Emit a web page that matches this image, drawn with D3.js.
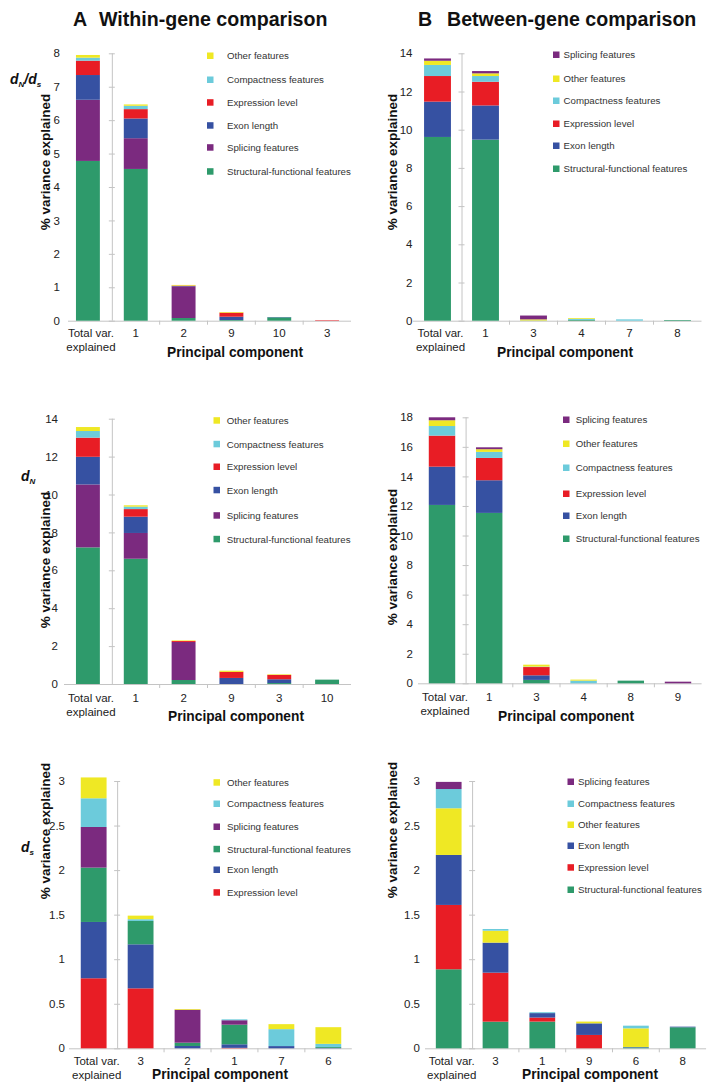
<!DOCTYPE html>
<html><head><meta charset="utf-8">
<script src="https://cdn.jsdelivr.net/npm/d3@7"></script>
<style>
html,body{margin:0;padding:0;background:#fff;}
svg{display:block;font-family:"Liberation Sans",Arial,Helvetica,sans-serif;}
</style></head><body>
<svg id="chart" width="719" height="1092"></svg>
<script>
// ---------- series names ----------
const STRUCT = "Structural-functional features";
const SPLICE = "Splicing features";
const EXON = "Exon length";
const EXPR = "Expression level";
const COMPACT = "Compactness features";
const OTHER = "Other features";

// ---------- A: Within-gene, dN/dS ----------
const a1Categories = ["Total var. explained", "1", "2", "9", "10", "3"];
const a1Order = [STRUCT, SPLICE, EXON, EXPR, COMPACT, OTHER];
const a1Structural = [4.78, 4.54, 0.08, 0.02, 0.10, 0];
const a1Splicing   = [1.83, 0.92, 0.95, 0, 0, 0];
const a1Exon       = [0.74, 0.59, 0.01, 0.10, 0.01, 0];
const a1Expression = [0.43, 0.28, 0.01, 0.12, 0, 0.015];
const a1Compact    = [0.09, 0.10, 0, 0, 0, 0];
const a1Other      = [0.08, 0.04, 0.02, 0.02, 0, 0];
const a1Ticks = [0, 1, 2, 3, 4, 5, 6, 7, 8];

// ---------- B: Between-gene, dN/dS ----------
const b1Categories = ["Total var. explained", "1", "3", "4", "7", "8"];
const b1Order = [STRUCT, EXON, EXPR, COMPACT, OTHER, SPLICE];
const b1Structural = [9.62, 9.48, 0.01, 0.04, 0, 0.035];
const b1Exon       = [1.85, 1.79, 0, 0, 0, 0];
const b1Expression = [1.34, 1.24, 0, 0, 0, 0];
const b1Compact    = [0.58, 0.30, 0, 0.06, 0.07, 0];
const b1Other      = [0.22, 0.14, 0.06, 0.04, 0, 0];
const b1Splicing   = [0.12, 0.12, 0.20, 0, 0, 0];
const b1Ticks = [0, 2, 4, 6, 8, 10, 12, 14];

// ---------- A: Within-gene, dN ----------
const a2Categories = ["Total var. explained", "1", "2", "9", "3", "10"];
const a2Order = [STRUCT, SPLICE, EXON, EXPR, COMPACT, OTHER];
const a2Structural = [7.21, 6.61, 0.21, 0, 0.05, 0.23];
const a2Splicing   = [3.32, 1.36, 2.01, 0, 0, 0];
const a2Exon       = [1.46, 0.86, 0, 0.32, 0.20, 0];
const a2Expression = [1.01, 0.40, 0.05, 0.32, 0.23, 0];
const a2Compact    = [0.35, 0.13, 0, 0, 0, 0];
const a2Other      = [0.21, 0.07, 0.03, 0.06, 0.03, 0];
const a2Ticks = [0, 2, 4, 6, 8, 10, 12, 14];

// ---------- B: Between-gene, dN ----------
const b2Categories = ["Total var. explained", "1", "3", "4", "8", "9"];
const b2Order = [STRUCT, EXON, EXPR, COMPACT, OTHER, SPLICE];
const b2Structural = [12.07, 11.53, 0.23, 0, 0.18, 0];
const b2Exon       = [2.59, 2.21, 0.31, 0, 0, 0];
const b2Expression = [2.10, 1.51, 0.56, 0, 0, 0];
const b2Compact    = [0.65, 0.41, 0.03, 0.18, 0, 0];
const b2Other      = [0.39, 0.18, 0.13, 0.07, 0, 0];
const b2Splicing   = [0.20, 0.13, 0, 0, 0, 0.11];
const b2Ticks = [0, 2, 4, 6, 8, 10, 12, 14, 16, 18];

// ---------- A: Within-gene, dS ----------
const a3Categories = ["Total var. explained", "3", "2", "1", "7", "6"];
const a3Order = [EXPR, EXON, STRUCT, SPLICE, COMPACT, OTHER];
const a3Expression = [0.786, 0.673, 0, 0.005, 0, 0];
const a3Exon       = [0.632, 0.494, 0.026, 0.04, 0.025, 0.005];
const a3Structural = [0.610, 0.262, 0.037, 0.22, 0, 0.01];
const a3Splicing   = [0.456, 0, 0.37, 0.05, 0, 0];
const a3Compact    = [0.322, 0.02, 0, 0.01, 0.19, 0.035];
const a3Other      = [0.234, 0.04, 0.008, 0, 0.056, 0.187];
const a3Ticks = [0, 0.5, 1, 1.5, 2, 2.5, 3];

// ---------- B: Between-gene, dS ----------
const b3Categories = ["Total var. explained", "3", "1", "9", "6", "8"];
const b3Order = [STRUCT, EXPR, EXON, OTHER, COMPACT, SPLICE];
const b3Structural = [0.887, 0.299, 0.30, 0, 0.01, 0.236];
const b3Expression = [0.722, 0.55, 0.045, 0.15, 0, 0];
const b3Exon       = [0.561, 0.337, 0.05, 0.13, 0.005, 0.007];
const b3Other      = [0.524, 0.134, 0, 0.02, 0.209, 0];
const b3Compact    = [0.216, 0.019, 0.01, 0, 0.03, 0];
const b3Splicing   = [0.08, 0, 0, 0, 0, 0];
const b3Ticks = [0, 0.5, 1, 1.5, 2, 2.5, 3];

const colors = {};
colors[STRUCT] = "#2e9a6b";
colors[SPLICE] = "#7b2a7f";
colors[EXON] = "#3651a2";
colors[EXPR] = "#e81d25";
colors[COMPACT] = "#6ccbdb";
colors[OTHER] = "#efe824";

const svg = d3.select("#chart");
const FONT = '"Liberation Sans", Arial, Helvetica, sans-serif';

// ---------- panel layout ----------
const panels = [
  { cats: a1Categories, order: a1Order, ticks: a1Ticks,
    values: {[STRUCT]: a1Structural, [SPLICE]: a1Splicing, [EXON]: a1Exon, [EXPR]: a1Expression, [COMPACT]: a1Compact, [OTHER]: a1Other},
    x0: 64, x1: 351, base: 320.7, top: 53.3, pad: 0.5, labelX: 60, baseStart: 68,
    legSq: 207, legTx: 227, legY: [56, 80, 102.7, 125.7, 147.7, 171.7],
    yTitle: [50, 162], xTitle: [235, 357], catDy: 16.5 },
  { cats: b1Categories, order: b1Order, ticks: b1Ticks,
    values: {[STRUCT]: b1Structural, [SPLICE]: b1Splicing, [EXON]: b1Exon, [EXPR]: b1Expression, [COMPACT]: b1Compact, [OTHER]: b1Other},
    x0: 413.5, x1: 701.5, base: 320.7, top: 53.3, pad: 0.44, labelX: 412.5, baseStart: 413,
    legSq: 553, legTx: 563.5, legY: [55, 79, 101, 124, 146, 169],
    yTitle: [397, 162], xTitle: [565, 357], catDy: 16.5 },
  { cats: a2Categories, order: a2Order, ticks: a2Ticks,
    values: {[STRUCT]: a2Structural, [SPLICE]: a2Splicing, [EXON]: a2Exon, [EXPR]: a2Expression, [COMPACT]: a2Compact, [OTHER]: a2Other},
    x0: 64, x1: 351, base: 684, top: 418.7, pad: 0.5, labelX: 58, baseStart: 64,
    legSq: 213.5, legTx: 226.7, legY: [420.7, 444.3, 467, 490.3, 515.7, 539.3],
    yTitle: [50, 560], xTitle: [236, 721], catDy: 17.5 },
  { cats: b2Categories, order: b2Order, ticks: b2Ticks,
    values: {[STRUCT]: b2Structural, [SPLICE]: b2Splicing, [EXON]: b2Exon, [EXPR]: b2Expression, [COMPACT]: b2Compact, [OTHER]: b2Other},
    x0: 418.4, x1: 701.6, base: 683.3, top: 417.3, pad: 0.44, labelX: 413, baseStart: 418,
    legSq: 563, legTx: 575.7, legY: [420, 444, 468, 494, 516, 539],
    yTitle: [397, 557], xTitle: [566, 721], catDy: 17.5 },
  { cats: a3Categories, order: a3Order, ticks: a3Ticks,
    values: {[STRUCT]: a3Structural, [SPLICE]: a3Splicing, [EXON]: a3Exon, [EXPR]: a3Expression, [COMPACT]: a3Compact, [OTHER]: a3Other},
    x0: 70.2, x1: 351.8, base: 1048.3, top: 781, pad: 0.45, labelX: 65, baseStart: 69,
    legSq: 213.5, legTx: 227, legY: [782.7, 804, 827, 849.3, 870, 892.7],
    yTitle: [50, 831], xTitle: [220, 1079], catDy: 17 },
  { cats: b3Categories, order: b3Order, ticks: b3Ticks,
    values: {[STRUCT]: b3Structural, [SPLICE]: b3Splicing, [EXON]: b3Exon, [EXPR]: b3Expression, [COMPACT]: b3Compact, [OTHER]: b3Other},
    x0: 425.3, x1: 706.1, base: 1048.3, top: 781, pad: 0.45, labelX: 420, baseStart: 425,
    legSq: 567.5, legTx: 578, legY: [782, 804, 825, 846, 867.7, 890],
    yTitle: [397, 830], xTitle: [590, 1079], catDy: 17 }
];

function drawPanel(p) {
  const g = svg.append("g");
  const yMax = p.ticks[p.ticks.length - 1];
  const x = d3.scaleBand().domain(p.cats).range([p.x0, p.x1])
    .paddingInner(p.pad).paddingOuter(p.pad / 2);
  const y = d3.scaleLinear().domain([0, yMax]).range([p.base, p.top]);
  const gap = (x.step() - x.bandwidth()) / 2;
  const axisX = x(p.cats[1]) - gap;

  // baseline
  g.append("line").attr("x1", p.baseStart).attr("x2", p.x1)
    .attr("y1", p.base + 0.5).attr("y2", p.base + 0.5)
    .attr("stroke", "#c4c4c4").attr("stroke-width", 1);

  // category tick marks between slots (after the y axis)
  const tickPos = p.cats.slice(2).map(c => x(c) - gap);
  g.selectAll("line.xt").data(tickPos).join("line")
    .attr("x1", d => d).attr("x2", d => d)
    .attr("y1", p.base).attr("y2", p.base + 4)
    .attr("stroke", "#c4c4c4");

  // y axis line with ticks (between first and second bar)
  const yAxisLine = g.append("g").attr("transform", `translate(${axisX},0)`)
    .call(d3.axisLeft(y).tickValues(p.ticks).tickSize(3).tickFormat(""));
  yAxisLine.select(".domain").attr("stroke", "#c4c4c4").attr("d", `M0.5,${p.base}V${p.top}`);
  yAxisLine.selectAll(".tick line").attr("stroke", "#c4c4c4").attr("x1", 3);

  // y tick labels
  const yLab = g.append("g").attr("transform", `translate(${p.labelX},0)`)
    .call(d3.axisLeft(y).tickValues(p.ticks).tickSize(0).tickPadding(0)
      .tickFormat(d => d3.format("~g")(d)));
  yLab.select(".domain").remove();
  yLab.selectAll("text").attr("font-family", FONT).attr("font-size", 11.5)
    .attr("fill", "#222");

  // stacked bars
  const rows = p.cats.map((c, i) => {
    const r = { cat: c };
    p.order.forEach(k => { r[k] = p.values[k][i]; });
    return r;
  });
  const stacked = d3.stack().keys(p.order)(rows);
  g.selectAll("g.series").data(stacked).join("g")
    .attr("fill", d => colors[d.key])
    .selectAll("rect").data(d => d).join("rect")
    .attr("x", d => x(d.data.cat))
    .attr("width", x.bandwidth())
    .attr("y", d => y(d[1]))
    .attr("height", d => Math.max(0, y(d[0]) - y(d[1])));

  // category labels
  const xl = g.append("g");
  p.cats.forEach((c, i) => {
    const t = xl.append("text").attr("text-anchor", "middle")
      .attr("font-family", FONT).attr("font-size", 11.5).attr("fill", "#222")
      .attr("x", x(c) + x.bandwidth() / 2 + (i === 0 ? 3 : 0))
      .attr("y", p.base + p.catDy);
    if (i === 0) {
      t.append("tspan").text("Total var.");
      t.append("tspan").attr("x", x(c) + x.bandwidth() / 2 + 3).attr("dy", 14).text("explained");
    } else {
      t.text(c);
    }
  });

  // x title
  g.append("text").attr("x", p.xTitle[0]).attr("y", p.xTitle[1])
    .attr("text-anchor", "middle").attr("font-family", FONT)
    .attr("font-weight", "bold").attr("font-size", 13.75).attr("fill", "#111")
    .text("Principal component");

  // y title
  g.append("text").attr("transform", `translate(${p.yTitle[0]},${p.yTitle[1]}) rotate(-90)`)
    .attr("text-anchor", "middle").attr("font-family", FONT)
    .attr("font-weight", "bold").attr("font-size", 13.5).attr("fill", "#111")
    .text("% variance explained");

  // legend (top of stack first)
  const legendKeys = p.order.slice().reverse();
  const lg = g.append("g");
  legendKeys.forEach((k, i) => {
    lg.append("rect").attr("x", p.legSq).attr("y", p.legY[i] - 3.5)
      .attr("width", 6.5).attr("height", 6.5).attr("fill", colors[k]);
    lg.append("text").attr("x", p.legTx).attr("y", p.legY[i])
      .attr("dy", "0.35em").attr("font-family", FONT).attr("font-size", 9.7)
      .attr("fill", "#333").text(k);
  });
}

panels.forEach(drawPanel);

// ---------- headings ----------
function heading(letterX, textX, letter, txt) {
  svg.append("text").attr("x", letterX).attr("y", 26).attr("font-family", FONT)
    .attr("font-weight", "bold").attr("font-size", 19.6).attr("fill", "#111").text(letter);
  svg.append("text").attr("x", textX).attr("y", 26).attr("font-family", FONT)
    .attr("font-weight", "bold").attr("font-size", 19.6).attr("fill", "#111").text(txt);
}
heading(73, 99, "A", "Within-gene comparison");
heading(418, 447, "B", "Between-gene comparison");

// ---------- measure labels ----------
function measureLabel(x, y, parts) {
  const t = svg.append("text").attr("x", x).attr("y", y).attr("font-family", FONT)
    .attr("font-weight", "bold").attr("font-style", "italic").attr("fill", "#111");
  parts.forEach(pt => {
    const s = t.append("tspan").attr("font-size", pt.sub ? 8 : 14).text(pt.t);
    if (pt.sub) s.attr("dy", 3); else if (pt.after) s.attr("dy", -3);
  });
}
measureLabel(10, 84, [{t: "d"}, {t: "N", sub: true}, {t: "/", after: true}, {t: "d"}, {t: "s", sub: true}]);
measureLabel(21, 481, [{t: "d"}, {t: "N", sub: true}]);
measureLabel(21, 852, [{t: "d"}, {t: "s", sub: true}]);
</script>
</body></html>
